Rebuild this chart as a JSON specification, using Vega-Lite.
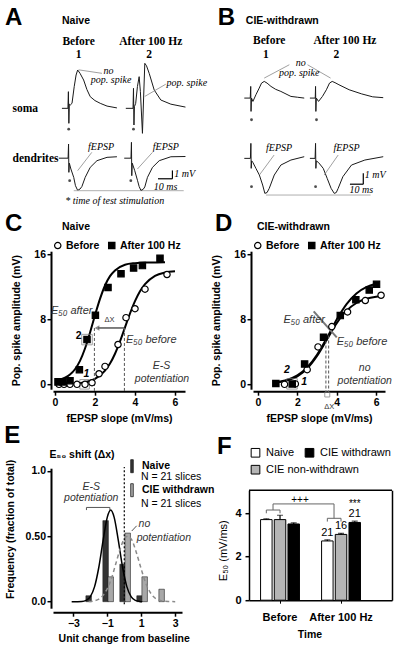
{
"$schema":"https://vega.github.io/schema/vega-lite/v6.json",
"background":"white",
"padding":{"left":3,"top":5,"right":0,"bottom":0},
"spacing":4.2,
"resolve":{"scale":{"fill":"independent","shape":"independent","stroke":"independent"},"legend":{"fill":"independent","shape":"independent","stroke":"independent"}},
"datasets":{
"one":[{}],
"Asb":[{"t":0,"v":0},{"t":3.8,"v":0},{"t":4.1,"v":2.0},{"t":4.4,"v":-1.8},{"t":4.7,"v":0.5},{"t":5.3,"v":0.4},{"t":6.4,"v":0.6},{"t":7.8,"v":2.6},{"t":9,"v":4.0},{"t":10,"v":4.6},{"t":11.5,"v":4.2},{"t":13.8,"v":3.4},{"t":15.9,"v":2.25},{"t":18,"v":1.4},{"t":21,"v":0.93},{"t":24.4,"v":0.6},{"t":28.7,"v":0.27},{"t":35,"v":0.05}],
"Asa":[{"t":0,"v":0},{"t":4.6,"v":0},{"t":4.9,"v":2.4},{"t":5.2,"v":-2.0},{"t":5.5,"v":0.2},{"t":6.3,"v":0.6},{"t":7.4,"v":2.6},{"t":8.5,"v":3.8},{"t":9.3,"v":2.0},{"t":10.6,"v":-3.0},{"t":11.3,"v":1.0},{"t":12.1,"v":5.4},{"t":13.2,"v":5.1},{"t":14.9,"v":4.2},{"t":18.1,"v":2.2},{"t":22.3,"v":1.0},{"t":28.7,"v":0.5},{"t":38,"v":0.15}],
"Adb":[{"t":-2,"v":0},{"t":3.9,"v":0},{"t":4.2,"v":1.7},{"t":4.4,"v":-1.7},{"t":4.7,"v":-0.6},{"t":5.7,"v":-1.3},{"t":7.5,"v":-2.3},{"t":8.6,"v":-3.3},{"t":10,"v":-3.86},{"t":11.5,"v":-3.7},{"t":12.7,"v":-3.4},{"t":14.8,"v":-2.3},{"t":18,"v":-1.1},{"t":22.3,"v":-0.3},{"t":28.7,"v":0.1},{"t":35,"v":0.17}],
"Ada":[{"t":-1,"v":0},{"t":3.3,"v":0},{"t":3.6,"v":1.9},{"t":3.8,"v":-2.1},{"t":4.1,"v":-0.6},{"t":5.7,"v":-1.5},{"t":7.5,"v":-2.7},{"t":8.5,"v":-3.4},{"t":9.6,"v":-3.86},{"t":11,"v":-3.75},{"t":12.1,"v":-3.45},{"t":13.8,"v":-2.3},{"t":17,"v":-1.1},{"t":21.3,"v":-0.3},{"t":28.7,"v":0.17},{"t":38,"v":0.2}],
"Bsb":[{"t":0,"v":0},{"t":3.8,"v":0},{"t":4.1,"v":1.4},{"t":4.3,"v":-1.6},{"t":4.6,"v":0},{"t":5.5,"v":-0.4},{"t":7.4,"v":0.4},{"t":9.5,"v":1.2},{"t":11,"v":1.8},{"t":12.7,"v":2.0},{"t":14.5,"v":1.8},{"t":17,"v":1.4},{"t":20,"v":1.05},{"t":23.3,"v":0.8},{"t":29.7,"v":0.2},{"t":34,"v":0.1},{"t":38.2,"v":0}],
"Bsa":[{"t":0,"v":0},{"t":3.4,"v":0},{"t":3.6,"v":1.4},{"t":3.8,"v":-1.6},{"t":4.1,"v":0},{"t":5.5,"v":-0.4},{"t":8,"v":0.2},{"t":10.5,"v":1.0},{"t":12.5,"v":1.8},{"t":14.2,"v":2.0},{"t":16,"v":1.85},{"t":18.5,"v":1.6},{"t":25,"v":1.0},{"t":33,"v":0.5},{"t":40,"v":0.15},{"t":46.7,"v":0.05}],
"Bdb":[{"t":0,"v":0},{"t":3.9,"v":0},{"t":4.2,"v":1.8},{"t":4.4,"v":-1.2},{"t":4.7,"v":-0.3},{"t":5.5,"v":-0.5},{"t":7.4,"v":-1.2},{"t":9.6,"v":-2.0},{"t":11.7,"v":-3.2},{"t":13.1,"v":-4.2},{"t":14.5,"v":-4.1},{"t":15.9,"v":-3.6},{"t":19.1,"v":-2.0},{"t":23.3,"v":-0.8},{"t":29.7,"v":-0.2},{"t":38.2,"v":0.2}],
"Bda":[{"t":0,"v":0},{"t":3.3,"v":0},{"t":3.6,"v":1.8},{"t":3.8,"v":-1.2},{"t":4.1,"v":-0.3},{"t":5.5,"v":-0.5},{"t":8.5,"v":-1.2},{"t":11,"v":-2.4},{"t":13.5,"v":-3.6},{"t":15.5,"v":-4.2},{"t":16.8,"v":-4.1},{"t":18,"v":-3.6},{"t":21,"v":-2.2},{"t":26.5,"v":-0.8},{"t":35,"v":-0.2},{"t":46.7,"v":0.2}],
"Cpts":[{"series":"Before","x":0.2,"y":0},{"series":"Before","x":0.45,"y":0},{"series":"Before","x":0.75,"y":0},{"series":"Before","x":1.1,"y":0},{"series":"Before","x":1.5,"y":0},{"series":"Before","x":1.85,"y":0.2},{"series":"Before","x":2.2,"y":1.3},{"series":"Before","x":2.5,"y":2.2},{"series":"Before","x":3.15,"y":4.9},{"series":"Before","x":3.55,"y":8.2},{"series":"Before","x":4.0,"y":9.3},{"series":"Before","x":4.5,"y":11.7},{"series":"Before","x":5.6,"y":13.5},
{"series":"After 100 Hz","x":0.15,"y":0.3},{"series":"After 100 Hz","x":0.4,"y":0.3},{"series":"After 100 Hz","x":0.75,"y":0.45},{"series":"After 100 Hz","x":1.22,"y":1.8},{"series":"After 100 Hz","x":1.6,"y":5.5},{"series":"After 100 Hz","x":2.02,"y":8.5},{"series":"After 100 Hz","x":2.65,"y":11.9},{"series":"After 100 Hz","x":3.3,"y":13.6},{"series":"After 100 Hz","x":3.93,"y":14.3},{"series":"After 100 Hz","x":4.37,"y":14.6},{"series":"After 100 Hz","x":5.25,"y":15.5}],
"Ccurve":[{"series":"After 100 Hz","x":0.2,"y":0.55},{"series":"After 100 Hz","x":0.5,"y":0.81},{"series":"After 100 Hz","x":0.75,"y":1.2},{"series":"After 100 Hz","x":1.0,"y":1.85},{"series":"After 100 Hz","x":1.25,"y":2.88},{"series":"After 100 Hz","x":1.5,"y":4.4},{"series":"After 100 Hz","x":1.75,"y":6.35},{"series":"After 100 Hz","x":2.0,"y":8.5},{"series":"After 100 Hz","x":2.25,"y":10.5},{"series":"After 100 Hz","x":2.5,"y":12.15},{"series":"After 100 Hz","x":2.75,"y":13.3},{"series":"After 100 Hz","x":3.0,"y":14.0},{"series":"After 100 Hz","x":3.5,"y":14.7},{"series":"After 100 Hz","x":4.0,"y":14.9},{"series":"After 100 Hz","x":4.5,"y":14.98},{"series":"After 100 Hz","x":5.5,"y":15.0},
{"series":"Before","x":1.0,"y":0.09},{"series":"Before","x":1.5,"y":0.25},{"series":"Before","x":2.0,"y":0.66},{"series":"Before","x":2.5,"y":1.67},{"series":"Before","x":2.75,"y":2.55},{"series":"Before","x":3.0,"y":3.76},{"series":"Before","x":3.25,"y":5.28},{"series":"Before","x":3.5,"y":7.0},{"series":"Before","x":3.75,"y":8.71},{"series":"Before","x":4.0,"y":10.23},{"series":"Before","x":4.25,"y":11.45},{"series":"Before","x":4.5,"y":12.32},{"series":"Before","x":5.0,"y":13.34},{"series":"Before","x":5.5,"y":13.75},{"series":"Before","x":6.0,"y":13.9}],
"Dpts":[{"series":"Before","x":1.35,"y":0},{"series":"Before","x":1.9,"y":0.05},{"series":"Before","x":2.5,"y":1.8},{"series":"Before","x":3.05,"y":4.6},{"series":"Before","x":3.75,"y":7.1},{"series":"Before","x":4.55,"y":8.9},{"series":"Before","x":5.45,"y":10.3},{"series":"Before","x":6.25,"y":10.95},
{"series":"After 100 Hz","x":0.91,"y":0.1},{"series":"After 100 Hz","x":1.74,"y":0.05},{"series":"After 100 Hz","x":2.37,"y":2.5},{"series":"After 100 Hz","x":3.33,"y":5.8},{"series":"After 100 Hz","x":4.18,"y":8.45},{"series":"After 100 Hz","x":4.97,"y":10.4},{"series":"After 100 Hz","x":5.65,"y":11.6},{"series":"After 100 Hz","x":6.02,"y":12.3}],
"Dcurve":[{"series":"Before","x":0.9,"y":0.2},{"series":"Before","x":1.5,"y":0.48},{"series":"Before","x":2.0,"y":0.99},{"series":"Before","x":2.5,"y":1.94},{"series":"Before","x":3.0,"y":3.48},{"series":"Before","x":3.5,"y":5.5},{"series":"Before","x":4.0,"y":7.52},{"series":"Before","x":4.5,"y":9.06},{"series":"Before","x":5.0,"y":10.0},{"series":"Before","x":5.5,"y":10.52},{"series":"Before","x":6.0,"y":10.77},{"series":"Before","x":6.2,"y":10.83},
{"series":"After 100 Hz","x":0.9,"y":0.25},{"series":"After 100 Hz","x":1.5,"y":0.57},{"series":"After 100 Hz","x":2.0,"y":1.1},{"series":"After 100 Hz","x":2.5,"y":2.07},{"series":"After 100 Hz","x":3.0,"y":3.63},{"series":"After 100 Hz","x":3.5,"y":5.7},{"series":"After 100 Hz","x":4.0,"y":7.97},{"series":"After 100 Hz","x":4.5,"y":9.87},{"series":"After 100 Hz","x":5.0,"y":11.18},{"series":"After 100 Hz","x":5.5,"y":11.95},{"series":"After 100 Hz","x":6.0,"y":12.37}],
"Ebars":[{"bin":-2,"group":"Naive","freq":0.045},{"bin":-1,"group":"Naive","freq":0.619},{"bin":0,"group":"Naive","freq":0.286},{"bin":1,"group":"Naive","freq":0.045},{"bin":-1,"group":"CIE withdrawn","freq":0.19},{"bin":0,"group":"CIE withdrawn","freq":0.524},{"bin":1,"group":"CIE withdrawn","freq":0.19},{"bin":2,"group":"CIE withdrawn","freq":0.095}],
"Ecurve":[{"group":"Naive","x":-3.1,"y":0},{"group":"Naive","x":-2.5,"y":0.002},{"group":"Naive","x":-2.25,"y":0.01},{"group":"Naive","x":-2.0,"y":0.039},{"group":"Naive","x":-1.75,"y":0.115},{"group":"Naive","x":-1.5,"y":0.263},{"group":"Naive","x":-1.25,"y":0.467},{"group":"Naive","x":-1.0,"y":0.646},{"group":"Naive","x":-0.8,"y":0.7},{"group":"Naive","x":-0.6,"y":0.646},{"group":"Naive","x":-0.35,"y":0.467},{"group":"Naive","x":-0.1,"y":0.263},{"group":"Naive","x":0.15,"y":0.115},{"group":"Naive","x":0.4,"y":0.039},{"group":"Naive","x":0.65,"y":0.01},{"group":"Naive","x":0.9,"y":0.002},{"group":"Naive","x":1.05,"y":0},
{"group":"CIE withdrawn","x":-2.1,"y":0.001},{"group":"CIE withdrawn","x":-1.75,"y":0.007},{"group":"CIE withdrawn","x":-1.5,"y":0.02},{"group":"CIE withdrawn","x":-1.25,"y":0.048},{"group":"CIE withdrawn","x":-1.0,"y":0.1},{"group":"CIE withdrawn","x":-0.75,"y":0.18},{"group":"CIE withdrawn","x":-0.5,"y":0.29},{"group":"CIE withdrawn","x":-0.25,"y":0.4},{"group":"CIE withdrawn","x":0.0,"y":0.48},{"group":"CIE withdrawn","x":0.2,"y":0.5},{"group":"CIE withdrawn","x":0.45,"y":0.47},{"group":"CIE withdrawn","x":0.7,"y":0.38},{"group":"CIE withdrawn","x":0.95,"y":0.27},{"group":"CIE withdrawn","x":1.2,"y":0.165},{"group":"CIE withdrawn","x":1.45,"y":0.088},{"group":"CIE withdrawn","x":1.7,"y":0.041},{"group":"CIE withdrawn","x":2.0,"y":0.014},{"group":"CIE withdrawn","x":2.3,"y":0.004},{"group":"CIE withdrawn","x":2.6,"y":0.001},{"group":"CIE withdrawn","x":3.0,"y":0}],
"Fbars":[{"time":"Before","group":"Naive","mean":3.7,"hi":3.74},{"time":"Before","group":"CIE non-withdrawn","mean":3.7,"hi":3.9},{"time":"Before","group":"CIE withdrawn","mean":3.5,"hi":3.55},{"time":"After 100 Hz","group":"Naive","mean":2.72,"hi":2.77,"n":"21"},{"time":"After 100 Hz","group":"CIE non-withdrawn","mean":3.02,"hi":3.07,"n":"16"},{"time":"After 100 Hz","group":"CIE withdrawn","mean":3.57,"hi":3.63,"n":"21","sig":"***"}],
"Fbr":[{"b":"L","o":1,"time":"Before","group":"Naive","y":3.99},{"b":"L","o":2,"time":"Before","group":"Naive","y":4.14},{"b":"L","o":3,"time":"Before","group":"CIE non-withdrawn","y":4.14},{"b":"L","o":4,"time":"Before","group":"CIE non-withdrawn","y":3.99},{"b":"R","o":1,"time":"After 100 Hz","group":"Naive","y":3.61},{"b":"R","o":2,"time":"After 100 Hz","group":"Naive","y":3.76},{"b":"R","o":3,"time":"After 100 Hz","group":"CIE non-withdrawn","y":3.76},{"b":"R","o":4,"time":"After 100 Hz","group":"CIE non-withdrawn","y":3.61}]
},
"vconcat":[
{"hconcat":[
 {"spacing":3.5,
  "vconcat":[
   {"hconcat":[
    {"width":65.5,"height":75,"layer":[
     {"data":{"name":"Asb"},"mark":{"type":"line","color":"#1a1a1a","strokeWidth":1},
      "encoding":{"x":{"field":"t","type":"quantitative","scale":{"domain":[-5.7,36],"nice":false,"zero":false},"axis":null},
       "y":{"field":"v","type":"quantitative","scale":{"domain":[-3.2,5.8],"nice":false,"zero":false},"axis":{"domain":false,"ticks":false,"labels":false,"title":"soma","titleAngle":0,"titleAlign":"left","titleBaseline":"middle","titleX":-41,"titleY":48.3,"titleFont":"Liberation Serif","titleFontSize":11.5}}}},
     {"data":{"name":"one"},"mark":{"type":"text","text":"A","fontSize":24,"fontWeight":"bold","align":"left","baseline":"alphabetic"},"encoding":{"x":{"datum":-36.3},"y":{"datum":9.95}}},
     {"data":{"name":"one"},"mark":{"type":"point","filled":true,"color":"black","size":8},"encoding":{"x":{"datum":4.3},"y":{"datum":-2.5}}},
     {"data":{"name":"one"},"mark":{"type":"text","text":"Naive","fontWeight":"bold","fontSize":10.5,"align":"left"},"encoding":{"x":{"datum":0},"y":{"datum":10.5}}},
     {"data":{"name":"one"},"mark":{"type":"text","text":"Before","font":"Liberation Serif","fontWeight":"bold","fontSize":11.5},"encoding":{"x":{"datum":10.6},"y":{"datum":8.0}}},
     {"data":{"name":"one"},"mark":{"type":"text","text":"1","font":"Liberation Serif","fontWeight":"bold","fontSize":11.5},"encoding":{"x":{"datum":10.6},"y":{"datum":6.35}}},
     {"data":{"name":"one"},"mark":{"type":"rule","color":"#888","strokeWidth":0.8},"encoding":{"x":{"datum":10.6},"x2":{"datum":25.5},"y":{"datum":4.62},"y2":{"datum":4.2}}},
     {"data":{"name":"one"},"mark":{"type":"text","text":"no","font":"Liberation Serif","fontStyle":"italic","fontSize":10},"encoding":{"x":{"datum":29.7},"y":{"datum":4.43}}},
     {"data":{"name":"one"},"mark":{"type":"text","text":"pop. spike","font":"Liberation Serif","fontStyle":"italic","fontSize":10},"encoding":{"x":{"datum":31.3},"y":{"datum":3.35}}}
    ]},
    {"width":62.8,"height":75,"layer":[
     {"data":{"name":"Asa"},"mark":{"type":"line","color":"#1a1a1a","strokeWidth":1},
      "encoding":{"x":{"field":"t","type":"quantitative","scale":{"domain":[0,40],"nice":false,"zero":false},"axis":null},
       "y":{"field":"v","type":"quantitative","scale":{"domain":[-3.2,5.8],"nice":false,"zero":false},"axis":null}}},
     {"data":{"name":"one"},"mark":{"type":"point","filled":true,"color":"black","size":8},"encoding":{"x":{"datum":4.9},"y":{"datum":-2.5}}},
     {"data":{"name":"one"},"mark":{"type":"text","text":"After 100 Hz","font":"Liberation Serif","fontWeight":"bold","fontSize":11.5},"encoding":{"x":{"datum":15.9},"y":{"datum":8.0}}},
     {"data":{"name":"one"},"mark":{"type":"text","text":"2","font":"Liberation Serif","fontWeight":"bold","fontSize":11.5},"encoding":{"x":{"datum":14.9},"y":{"datum":6.35}}},
     {"data":{"name":"one"},"mark":{"type":"rule","color":"#888","strokeWidth":0.8},"encoding":{"x":{"datum":12.1},"x2":{"datum":25.5},"y":{"datum":1.43},"y2":{"datum":2.9}}},
     {"data":{"name":"one"},"mark":{"type":"text","text":"pop. spike","font":"Liberation Serif","fontStyle":"italic","fontSize":10,"align":"left"},"encoding":{"x":{"datum":26},"y":{"datum":3.0}}}
    ]}
   ],"spacing":6.8,"bounds":"flush"},
   {"hconcat":[
    {"width":65.5,"height":54.2,"layer":[
     {"data":{"name":"Adb"},"mark":{"type":"line","color":"#1a1a1a","strokeWidth":1},
      "encoding":{"x":{"field":"t","type":"quantitative","scale":{"domain":[-5.7,36],"nice":false,"zero":false},"axis":null},
       "y":{"field":"v","type":"quantitative","scale":{"domain":[-4.5,2.0],"nice":false,"zero":false},"axis":{"domain":false,"ticks":false,"labels":false,"title":"dendrites","titleAngle":0,"titleAlign":"left","titleBaseline":"middle","titleX":-41,"titleY":16.7,"titleFont":"Liberation Serif","titleFontSize":11.5}}}},
     {"data":{"name":"one"},"mark":{"type":"rule","color":"#999","strokeWidth":0.8},"encoding":{"x":{"datum":7.5},"x2":{"datum":77.5},"y":{"datum":-3.9}}},
     {"data":{"name":"one"},"mark":{"type":"point","filled":true,"color":"black","size":8},"encoding":{"x":{"datum":4.9},"y":{"datum":-2.7}}},
     {"data":{"name":"one"},"mark":{"type":"rule","color":"#888","strokeWidth":0.8},"encoding":{"x":{"datum":10},"x2":{"datum":19},"y":{"datum":-1.5},"y2":{"datum":0.7}}},
     {"data":{"name":"one"},"mark":{"type":"text","text":"fEPSP","font":"Liberation Serif","fontStyle":"italic","fontSize":10},"encoding":{"x":{"datum":24.9},"y":{"datum":1.3}}},
     {"data":{"name":"one"},"mark":{"type":"text","text":"* time of test stimulation","font":"Liberation Serif","fontStyle":"italic","fontSize":10,"align":"left"},"encoding":{"x":{"datum":2.1},"y":{"datum":-5.1}}}
    ]},
    {"width":62.8,"height":54.2,"layer":[
     {"data":{"name":"Ada"},"mark":{"type":"line","color":"#1a1a1a","strokeWidth":1},
      "encoding":{"x":{"field":"t","type":"quantitative","scale":{"domain":[0,40],"nice":false,"zero":false},"axis":null},
       "y":{"field":"v","type":"quantitative","scale":{"domain":[-4.5,2.0],"nice":false,"zero":false},"axis":null}}},
     {"data":{"name":"one"},"mark":{"type":"point","filled":true,"color":"black","size":8},"encoding":{"x":{"datum":3.2},"y":{"datum":-2.7}}},
     {"data":{"name":"one"},"mark":{"type":"rule","color":"#888","strokeWidth":0.8},"encoding":{"x":{"datum":7.4},"x2":{"datum":17},"y":{"datum":-1.3},"y2":{"datum":0.7}}},
     {"data":{"name":"one"},"mark":{"type":"text","text":"fEPSP","font":"Liberation Serif","fontStyle":"italic","fontSize":10},"encoding":{"x":{"datum":25.5},"y":{"datum":1.3}}},
     {"data":{"name":"one"},"mark":{"type":"rule","color":"black","strokeWidth":1.2},"encoding":{"x":{"datum":20.5},"x2":{"datum":29.7},"y":{"datum":-2.47}}},
     {"data":{"name":"one"},"mark":{"type":"rule","color":"black","strokeWidth":1.2},"encoding":{"x":{"datum":29.7},"y":{"datum":-2.47},"y2":{"datum":-1.47}}},
     {"data":{"name":"one"},"mark":{"type":"text","text":"1 mV","font":"Liberation Serif","fontStyle":"italic","fontSize":10,"align":"left"},"encoding":{"x":{"datum":30.8},"y":{"datum":-1.9}}},
     {"data":{"name":"one"},"mark":{"type":"text","text":"10 ms","font":"Liberation Serif","fontStyle":"italic","fontSize":10},"encoding":{"x":{"datum":25.3},"y":{"datum":-3.4}}}
    ]}
   ],"spacing":6.8,"bounds":"flush"}
  ]},
 {"spacing":8.7,
  "vconcat":[
   {"hconcat":[
    {"width":60.4,"height":71,"layer":[
     {"data":{"name":"Bsb"},"mark":{"type":"line","color":"#1a1a1a","strokeWidth":1},
      "encoding":{"x":{"field":"t","type":"quantitative","scale":{"domain":[0,38.5],"nice":false,"zero":false},"axis":null},
       "y":{"field":"v","type":"quantitative","scale":{"domain":[-3.95,4.57],"nice":false,"zero":false},"axis":null}}},
     {"data":{"name":"one"},"mark":{"type":"text","text":"B","fontSize":24,"fontWeight":"bold","align":"left","baseline":"alphabetic"},"encoding":{"x":{"datum":-17.0},"y":{"datum":8.73}}},
     {"data":{"name":"one"},"mark":{"type":"point","filled":true,"color":"black","size":8},"encoding":{"x":{"datum":4.6},"y":{"datum":-2.6}}},
     {"data":{"name":"one"},"mark":{"type":"text","text":"CIE-withdrawn","fontWeight":"bold","fontSize":10.5,"align":"left"},"encoding":{"x":{"datum":1.0},"y":{"datum":9.25}}},
     {"data":{"name":"one"},"mark":{"type":"text","text":"Before","font":"Liberation Serif","fontWeight":"bold","fontSize":11.5},"encoding":{"x":{"datum":15.9},"y":{"datum":6.8}}},
     {"data":{"name":"one"},"mark":{"type":"text","text":"1","font":"Liberation Serif","fontWeight":"bold","fontSize":11.5},"encoding":{"x":{"datum":13.8},"y":{"datum":5.2}}},
     {"data":{"name":"one"},"mark":{"type":"rule","color":"#888","strokeWidth":0.8},"encoding":{"x":{"datum":12.7},"x2":{"datum":28.7},"y":{"datum":2.4},"y2":{"datum":4.0}}},
     {"data":{"name":"one"},"mark":{"type":"rule","color":"#888","strokeWidth":0.8},"encoding":{"x":{"datum":40.3},"x2":{"datum":55},"y":{"datum":4.0},"y2":{"datum":2.4}}},
     {"data":{"name":"one"},"mark":{"type":"text","text":"no","font":"Liberation Serif","fontStyle":"italic","fontSize":10},"encoding":{"x":{"datum":36},"y":{"datum":4.2}}},
     {"data":{"name":"one"},"mark":{"type":"text","text":"pop. spike","font":"Liberation Serif","fontStyle":"italic","fontSize":10},"encoding":{"x":{"datum":35},"y":{"datum":3.0}}}
    ]},
    {"width":73.8,"height":71,"layer":[
     {"data":{"name":"Bsa"},"mark":{"type":"line","color":"#1a1a1a","strokeWidth":1},
      "encoding":{"x":{"field":"t","type":"quantitative","scale":{"domain":[0,47],"nice":false,"zero":false},"axis":null},
       "y":{"field":"v","type":"quantitative","scale":{"domain":[-3.95,4.57],"nice":false,"zero":false},"axis":null}}},
     {"data":{"name":"one"},"mark":{"type":"point","filled":true,"color":"black","size":8},"encoding":{"x":{"datum":4.2},"y":{"datum":-2.6}}},
     {"data":{"name":"one"},"mark":{"type":"text","text":"After 100 Hz","font":"Liberation Serif","fontWeight":"bold","fontSize":11.5},"encoding":{"x":{"datum":22.3},"y":{"datum":6.8}}},
     {"data":{"name":"one"},"mark":{"type":"text","text":"2","font":"Liberation Serif","fontWeight":"bold","fontSize":11.5},"encoding":{"x":{"datum":16.9},"y":{"datum":5.2}}}
    ]}
   ],"spacing":4.6,"bounds":"flush"},
   {"hconcat":[
    {"width":60.4,"height":55,"layer":[
     {"data":{"name":"Bdb"},"mark":{"type":"line","color":"#1a1a1a","strokeWidth":1},
      "encoding":{"x":{"field":"t","type":"quantitative","scale":{"domain":[0,38.5],"nice":false,"zero":false},"axis":null},
       "y":{"field":"v","type":"quantitative","scale":{"domain":[-4.6,2.0],"nice":false,"zero":false},"axis":null}}},
     {"data":{"name":"one"},"mark":{"type":"rule","color":"#999","strokeWidth":0.8},"encoding":{"x":{"datum":13.8},"x2":{"datum":80.5},"y":{"datum":-4.4}}},
     {"data":{"name":"one"},"mark":{"type":"point","filled":true,"color":"black","size":8},"encoding":{"x":{"datum":4.6},"y":{"datum":-3.4}}},
     {"data":{"name":"one"},"mark":{"type":"rule","color":"#888","strokeWidth":0.8},"encoding":{"x":{"datum":9.6},"x2":{"datum":19},"y":{"datum":-2.0},"y2":{"datum":0.4}}},
     {"data":{"name":"one"},"mark":{"type":"text","text":"fEPSP","font":"Liberation Serif","fontStyle":"italic","fontSize":10},"encoding":{"x":{"datum":22.2},"y":{"datum":1.2}}}
    ]},
    {"width":73.8,"height":55,"layer":[
     {"data":{"name":"Bda"},"mark":{"type":"line","color":"#1a1a1a","strokeWidth":1},
      "encoding":{"x":{"field":"t","type":"quantitative","scale":{"domain":[0,47],"nice":false,"zero":false},"axis":null},
       "y":{"field":"v","type":"quantitative","scale":{"domain":[-4.6,2.0],"nice":false,"zero":false},"axis":null}}},
     {"data":{"name":"one"},"mark":{"type":"point","filled":true,"color":"black","size":8},"encoding":{"x":{"datum":3.6},"y":{"datum":-3.4}}},
     {"data":{"name":"one"},"mark":{"type":"rule","color":"#888","strokeWidth":0.8},"encoding":{"x":{"datum":9.1},"x2":{"datum":18},"y":{"datum":-2.0},"y2":{"datum":0.4}}},
     {"data":{"name":"one"},"mark":{"type":"text","text":"fEPSP","font":"Liberation Serif","fontStyle":"italic","fontSize":10},"encoding":{"x":{"datum":23.3},"y":{"datum":1.2}}},
     {"data":{"name":"one"},"mark":{"type":"rule","color":"black","strokeWidth":1.2},"encoding":{"x":{"datum":25.5},"x2":{"datum":34},"y":{"datum":-3.1}}},
     {"data":{"name":"one"},"mark":{"type":"rule","color":"black","strokeWidth":1.2},"encoding":{"x":{"datum":34},"y":{"datum":-3.1},"y2":{"datum":-1.8}}},
     {"data":{"name":"one"},"mark":{"type":"text","text":"1 mV","font":"Liberation Serif","fontStyle":"italic","fontSize":10,"align":"left"},"encoding":{"x":{"datum":35},"y":{"datum":-2.0}}},
     {"data":{"name":"one"},"mark":{"type":"text","text":"10 ms","font":"Liberation Serif","fontStyle":"italic","fontSize":10},"encoding":{"x":{"datum":32.7},"y":{"datum":-3.8}}}
    ]}
   ],"spacing":4.6,"bounds":"flush"}
  ]}
],"spacing":8.3},
{"vconcat":[
 {"hconcat":[
  {"width":132,"height":138,
   "layer":[
    {"data":{"name":"Ccurve"},"mark":{"type":"line","color":"black","strokeWidth":2,"interpolate":"monotone"},
     "encoding":{"x":{"field":"x","type":"quantitative","scale":{"domain":[-0.1,6.5],"nice":false,"zero":false},"axis":{"values":[0,1,2,3,4,5,6],"labelOverlap":false,"title":"fEPSP slope (mV/ms)","offset":2,"labelPadding":2.5,"titlePadding":5}},
      "y":{"field":"y","type":"quantitative","scale":{"domain":[-0.6,16.37],"nice":false,"zero":false},"axis":{"values":[0,4,8,12,16],"labelOverlap":false,"title":"Pop. spike amplitude (mV)","offset":2,"labelPadding":1.5,"titlePadding":12}},
      "detail":{"field":"series"}}},
    {"data":{"name":"one"},"mark":{"type":"text","text":"C","fontSize":24,"fontWeight":"bold","align":"left","baseline":"alphabetic"},"encoding":{"x":{"datum":-2.5},"y":{"datum":18.83}}},
    {"data":{"name":"one"},"mark":{"type":"rule","color":"#555","strokeWidth":1,"strokeDash":[3,2]},"encoding":{"x":{"datum":1.97},"y":{"datum":6.93},"y2":{"datum":-0.86}}},
    {"data":{"name":"one"},"mark":{"type":"rule","color":"#555","strokeWidth":1,"strokeDash":[3,2]},"encoding":{"x":{"datum":3.47},"y":{"datum":6.93},"y2":{"datum":-0.86}}},
    {"data":{"name":"one"},"mark":{"type":"rule","color":"#555","strokeWidth":1.5},"encoding":{"x":{"datum":3.47},"x2":{"datum":2.15},"y":{"datum":6.93}}},
    {"data":{"name":"one"},"mark":{"type":"point","shape":"triangle-left","filled":true,"color":"#555","size":30},"encoding":{"x":{"datum":2.1},"y":{"datum":6.93}}},
    {"data":{"name":"one"},"mark":{"type":"point","shape":"square","filled":false,"color":"#777","size":110,"strokeWidth":1},"encoding":{"x":{"datum":1.6},"y":{"datum":5.5}}},
    {"data":{"name":"one"},"mark":{"type":"point","shape":"square","filled":false,"color":"#777","size":90,"strokeWidth":1},"encoding":{"x":{"datum":1.48},"y":{"datum":0}}},
    {"data":{"name":"Cpts"},"mark":{"type":"point","filled":true,"strokeWidth":1.2,"size":40,"opacity":1},
     "encoding":{"x":{"field":"x","type":"quantitative"},"y":{"field":"y","type":"quantitative"},
      "shape":{"field":"series","type":"nominal","scale":{"domain":["Before","After 100 Hz"],"range":["circle","square"]},"legend":{"orient":"none","legendX":-0.5,"legendY":-11,"title":null,"direction":"horizontal","symbolSize":40,"symbolStrokeWidth":1.2,"labelFontWeight":"bold","labelFontSize":10.5,"labelOffset":3,"columnPadding":6,"padding":0}},
      "fill":{"field":"series","type":"nominal","scale":{"domain":["Before","After 100 Hz"],"range":["white","black"]},"legend":{"orient":"none","legendX":-0.5,"legendY":-11,"title":null,"direction":"horizontal","symbolSize":40,"symbolStrokeWidth":1.2,"labelFontWeight":"bold","labelFontSize":10.5,"labelOffset":3,"columnPadding":6,"padding":0}},
      "stroke":{"field":"series","type":"nominal","scale":{"domain":["Before","After 100 Hz"],"range":["black","black"]},"legend":{"orient":"none","legendX":-0.5,"legendY":-11,"title":null,"direction":"horizontal","symbolSize":40,"symbolStrokeWidth":1.2,"labelFontWeight":"bold","labelFontSize":10.5,"labelOffset":3,"columnPadding":6,"padding":0}}}},
    {"data":{"name":"one"},"mark":{"type":"text","text":"Naive","fontWeight":"bold","fontSize":10.5,"align":"left"},"encoding":{"x":{"datum":0.35},"y":{"datum":19.3}}},
    {"data":{"name":"one"},"mark":{"type":"text","text":"2","fontWeight":"bold","fontSize":10.5},"encoding":{"x":{"datum":1.18},"y":{"datum":5.9}}},
    {"data":{"name":"one"},"mark":{"type":"text","text":"1","fontWeight":"bold","fontStyle":"italic","fontSize":10.5},"encoding":{"x":{"datum":1.57},"y":{"datum":1.3}}},
    {"data":{"name":"one"},"mark":{"type":"text","text":"E₅₀ after","fontStyle":"italic","fontSize":11,"color":"#333","align":"left"},"encoding":{"x":{"datum":-0.2},"y":{"datum":9.0}}},
    {"data":{"name":"one"},"mark":{"type":"text","text":"E₅₀ before","fontStyle":"italic","fontSize":11,"color":"#333","align":"left"},"encoding":{"x":{"datum":3.55},"y":{"datum":5.5}}},
    {"data":{"name":"one"},"mark":{"type":"text","text":"ΔX","fontSize":7.5,"color":"#333"},"encoding":{"x":{"datum":2.72},"y":{"datum":7.9}}},
    {"data":{"name":"one"},"mark":{"type":"text","text":"E-S","fontStyle":"italic","fontSize":10.5,"color":"#333"},"encoding":{"x":{"datum":5.33},"y":{"datum":2.2}}},
    {"data":{"name":"one"},"mark":{"type":"text","text":"potentiation","fontStyle":"italic","fontSize":10.5,"color":"#333"},"encoding":{"x":{"datum":5.35},"y":{"datum":0.6}}}
   ]},
  {"width":132,"height":138,
   "layer":[
    {"data":{"name":"Dcurve"},"mark":{"type":"line","color":"black","strokeWidth":2,"interpolate":"monotone"},
     "encoding":{"x":{"field":"x","type":"quantitative","scale":{"domain":[-0.25,6.45],"nice":false,"zero":false},"axis":{"values":[0,1,2,3,4,5,6],"labelOverlap":false,"title":"fEPSP slope (mV/ms)","offset":2,"labelPadding":2.5,"titlePadding":5}},
      "y":{"field":"y","type":"quantitative","scale":{"domain":[-0.6,16.37],"nice":false,"zero":false},"axis":{"values":[0,4,8,12,16],"labelOverlap":false,"title":"Pop. spike amplitude (mV)","offset":2,"labelPadding":1.5,"titlePadding":12}},
      "detail":{"field":"series"}}},
    {"data":{"name":"one"},"mark":{"type":"text","text":"D","fontSize":24,"fontWeight":"bold","align":"left","baseline":"alphabetic"},"encoding":{"x":{"datum":-2.18},"y":{"datum":18.83}}},
    {"data":{"name":"one"},"mark":{"type":"rule","color":"#555","strokeWidth":1,"strokeDash":[3,2]},"encoding":{"x":{"datum":3.45},"y":{"datum":6.0},"y2":{"datum":-1.07}}},
    {"data":{"name":"one"},"mark":{"type":"rule","color":"#555","strokeWidth":1,"strokeDash":[3,2]},"encoding":{"x":{"datum":3.59},"y":{"datum":6.0},"y2":{"datum":-1.07}}},
    {"data":{"name":"one"},"mark":{"type":"rule","color":"#777","strokeWidth":2},"encoding":{"x":{"datum":2.83},"x2":{"datum":4.0},"y":{"datum":8.98},"y2":{"datum":5.78}}},
    {"data":{"name":"one"},"mark":{"type":"point","shape":"square","filled":false,"color":"#777","size":110,"strokeWidth":1},"encoding":{"x":{"datum":1.73},"y":{"datum":0.06}}},
    {"data":{"name":"one"},"mark":{"type":"point","shape":"square","filled":false,"color":"#777","size":25,"strokeWidth":1},"encoding":{"x":{"datum":3.52},"y":{"datum":-1.25}}},
    {"data":{"name":"Dpts"},"mark":{"type":"point","filled":true,"strokeWidth":1.2,"size":40,"opacity":1},
     "encoding":{"x":{"field":"x","type":"quantitative"},"y":{"field":"y","type":"quantitative"},
      "shape":{"field":"series","type":"nominal","scale":{"domain":["Before","After 100 Hz"],"range":["circle","square"]},"legend":{"orient":"none","legendX":-0.5,"legendY":-11,"title":null,"direction":"horizontal","symbolSize":40,"symbolStrokeWidth":1.2,"labelFontWeight":"bold","labelFontSize":10.5,"labelOffset":3,"columnPadding":6,"padding":0}},
      "fill":{"field":"series","type":"nominal","scale":{"domain":["Before","After 100 Hz"],"range":["white","black"]},"legend":{"orient":"none","legendX":-0.5,"legendY":-11,"title":null,"direction":"horizontal","symbolSize":40,"symbolStrokeWidth":1.2,"labelFontWeight":"bold","labelFontSize":10.5,"labelOffset":3,"columnPadding":6,"padding":0}},
      "stroke":{"field":"series","type":"nominal","scale":{"domain":["Before","After 100 Hz"],"range":["black","black"]},"legend":{"orient":"none","legendX":-0.5,"legendY":-11,"title":null,"direction":"horizontal","symbolSize":40,"symbolStrokeWidth":1.2,"labelFontWeight":"bold","labelFontSize":10.5,"labelOffset":3,"columnPadding":6,"padding":0}}}},
    {"data":{"name":"one"},"mark":{"type":"text","text":"CIE-withdrawn","fontWeight":"bold","fontSize":10.5,"align":"left"},"encoding":{"x":{"datum":-0.05},"y":{"datum":19.3}}},
    {"data":{"name":"one"},"mark":{"type":"text","text":"2","fontWeight":"bold","fontStyle":"italic","fontSize":10.5},"encoding":{"x":{"datum":1.47},"y":{"datum":1.7}}},
    {"data":{"name":"one"},"mark":{"type":"text","text":"1","fontWeight":"bold","fontStyle":"italic","fontSize":10.5,"align":"left"},"encoding":{"x":{"datum":2.2},"y":{"datum":0.3}}},
    {"data":{"name":"one"},"mark":{"type":"text","text":"E₅₀ after","fontStyle":"italic","fontSize":11,"color":"#333","align":"left"},"encoding":{"x":{"datum":1.3},"y":{"datum":7.96}}},
    {"data":{"name":"one"},"mark":{"type":"text","text":"E₅₀ before","fontStyle":"italic","fontSize":11,"color":"#333","align":"left"},"encoding":{"x":{"datum":4.0},"y":{"datum":5.2}}},
    {"data":{"name":"one"},"mark":{"type":"text","text":"ΔX","fontSize":7.5,"color":"#333"},"encoding":{"x":{"datum":3.62},"y":{"datum":-2.75}}},
    {"data":{"name":"one"},"mark":{"type":"text","text":"no","fontStyle":"italic","fontSize":10.5,"color":"#333"},"encoding":{"x":{"datum":5.42},"y":{"datum":2.0}}},
    {"data":{"name":"one"},"mark":{"type":"text","text":"potentiation","fontStyle":"italic","fontSize":10.5,"color":"#333"},"encoding":{"x":{"datum":5.42},"y":{"datum":0.45}}}
   ]}
 ],"spacing":68,"bounds":"flush","resolve":{"scale":{"fill":"independent","shape":"independent","stroke":"independent"},"legend":{"fill":"independent","shape":"independent","stroke":"independent"}}},
 {"hconcat":[
  {"width":129,"height":140,
   "layer":[
    {"data":{"name":"Ebars"},"transform":[{"filter":"datum.group == 'Naive'"}],
     "mark":{"type":"bar","width":5.5,"xOffset":-1.7,"stroke":"#222","strokeWidth":0.6},
     "encoding":{"x":{"field":"bin","type":"quantitative","scale":{"domain":[-4.2,3.4],"nice":false,"zero":false,"padding":0},"axis":{"values":[-3,-2,-1,0,1,2,3],"labelOverlap":false,"offset":4,"title":"Unit change from baseline","titleX":70.7,"labelPadding":2,"titlePadding":5}},
      "y":{"field":"freq","type":"quantitative","stack":null,"scale":{"domain":[-0.05,1.02],"nice":false,"zero":false,"padding":0},"axis":{"values":[0,0.25,0.5,0.75,1],"labelOverlap":false,"labelExpr":"datum.value == 0 ? '0.0' : datum.value == 1 ? '1.0' : format(datum.value, '.2f')","offset":2,"title":"Frequency (fraction of total)","titleY":60.7,"labelPadding":1.5,"titlePadding":10}},
      "fill":{"field":"group","type":"nominal","scale":{"domain":["Naive","CIE withdrawn"],"range":["#333333","#a8a8a8"]},"legend":{"orient":"none","legendX":72,"legendY":-9,"title":null,"direction":"vertical","symbolType":"M-0.2,-1H0.2V1H-0.2Z","symbolSize":169,"symbolStrokeColor":"#222","symbolStrokeWidth":0.8,"labelFontWeight":"bold","labelFontSize":10.5,"labelOffset":3,"rowPadding":6,"padding":0}}}},
    {"data":{"name":"Ebars"},"transform":[{"filter":"datum.group == 'CIE withdrawn'"}],
     "mark":{"type":"bar","width":5.5,"xOffset":3.4,"stroke":"#222","strokeWidth":0.6},
     "encoding":{"x":{"field":"bin","type":"quantitative","scale":{"domain":[-4.2,3.4],"nice":false,"zero":false,"padding":0}},"y":{"field":"freq","type":"quantitative","stack":null,"scale":{"domain":[-0.05,1.02],"nice":false,"zero":false,"padding":0}},"fill":{"field":"group","type":"nominal"}}},
    {"data":{"name":"Ecurve"},"transform":[{"filter":"datum.group == 'Naive'"}],"mark":{"type":"line","color":"black","strokeWidth":1.5,"interpolate":"monotone"},"encoding":{"x":{"field":"x","type":"quantitative","scale":{"domain":[-4.2,3.4],"nice":false,"zero":false,"padding":0}},"y":{"field":"y","type":"quantitative","scale":{"domain":[-0.05,1.02],"nice":false,"zero":false,"padding":0}}}},
    {"data":{"name":"Ecurve"},"transform":[{"filter":"datum.group == 'CIE withdrawn'"}],"mark":{"type":"line","color":"#8a8a8a","strokeWidth":1.5,"strokeDash":[4,3],"interpolate":"monotone"},"encoding":{"x":{"field":"x","type":"quantitative","scale":{"domain":[-4.2,3.4],"nice":false,"zero":false,"padding":0}},"y":{"field":"y","type":"quantitative","scale":{"domain":[-0.05,1.02],"nice":false,"zero":false,"padding":0}}}},
    {"data":{"name":"one"},"mark":{"type":"text","text":"E","fontSize":24,"fontWeight":"bold","align":"left","baseline":"alphabetic"},"encoding":{"x":{"datum":-7.07,"scale":{"domain":[-4.2,3.4],"nice":false,"zero":false,"padding":0}},"y":{"datum":1.212,"scale":{"domain":[-0.05,1.02],"nice":false,"zero":false,"padding":0}}}},
    {"data":{"name":"one"},"mark":{"type":"rule","color":"black","strokeWidth":1.2,"strokeDash":[2,2]},"encoding":{"x":{"datum":0},"y":{"datum":-0.02},"y2":{"datum":1.03}}},
    {"data":{"name":"one"},"mark":{"type":"rule","color":"#555","strokeWidth":1},"encoding":{"x":{"datum":-2.23},"x2":{"datum":-0.85},"y":{"datum":0.72}}},
    {"data":{"name":"one"},"mark":{"type":"rule","color":"#555","strokeWidth":1},"encoding":{"x":{"datum":-2.23},"y":{"datum":0.72},"y2":{"datum":0.7}}},
    {"data":{"name":"one"},"mark":{"type":"rule","color":"#555","strokeWidth":1},"encoding":{"x":{"datum":-0.85},"y":{"datum":0.72},"y2":{"datum":0.7}}},
    {"data":{"name":"one"},"mark":{"type":"rule","color":"#555","strokeWidth":1},"encoding":{"x":{"datum":0.73},"x2":{"datum":0.44},"y":{"datum":0.58},"y2":{"datum":0.54}}},
    {"data":{"name":"one"},"mark":{"type":"text","text":"E-S","fontStyle":"italic","fontSize":10.5,"color":"#333"},"encoding":{"x":{"datum":-1.95},"y":{"datum":0.88}}},
    {"data":{"name":"one"},"mark":{"type":"text","text":"potentiation","fontStyle":"italic","fontSize":10.5,"color":"#333"},"encoding":{"x":{"datum":-1.95},"y":{"datum":0.79}}},
    {"data":{"name":"one"},"mark":{"type":"text","text":"no","fontStyle":"italic","fontSize":10.5,"color":"#333","align":"left"},"encoding":{"x":{"datum":0.84},"y":{"datum":0.595}}},
    {"data":{"name":"one"},"mark":{"type":"text","text":"potentiation","fontStyle":"italic","fontSize":10.5,"color":"#333","align":"left"},"encoding":{"x":{"datum":0.73},"y":{"datum":0.49}}},
    {"data":{"name":"one"},"mark":{"type":"text","text":"E₅₀ shift  (Δx)","fontWeight":"bold","fontSize":10.5,"align":"left"},"encoding":{"x":{"datum":-4.4},"y":{"datum":1.118}}},
    {"data":{"name":"one"},"mark":{"type":"text","text":"N = 21 slices","fontSize":10.5,"align":"left"},"encoding":{"x":{"datum":0.98},"y":{"datum":0.952}}},
    {"data":{"name":"one"},"mark":{"type":"text","text":"N = 21 slices","fontSize":10.5,"align":"left"},"encoding":{"x":{"datum":0.98},"y":{"datum":0.748}}}
   ]},
  {"width":143,"height":132,
   "resolve":{"axis":{"y":"independent"}},
   "layer":[
    {"data":{"name":"Fbars"},"mark":{"type":"bar","strokeWidth":1},
     "encoding":{"x":{"field":"time","type":"nominal","scale":{"domain":["Before","After 100 Hz"],"paddingInner":0.31,"paddingOuter":0.327,"align":0.25},"axis":{"title":"Time","labelAngle":0,"domainWidth":1.5,"tickSize":3,"tickWidth":1,"labelPadding":8,"titlePadding":7,"titleX":60.5,"labelFontSize":11}},
      "xOffset":{"field":"group","type":"nominal","scale":{"domain":["Naive","CIE non-withdrawn","CIE withdrawn"],"paddingInner":0.16,"paddingOuter":0.117}},
      "y":{"field":"mean","type":"quantitative","stack":null,"scale":{"domain":[0,5.05],"range":[132,22],"nice":false},"axis":{"values":[0,2,4],"title":"E₅₀ (mV/ms)","titleFontWeight":"normal","titleFontSize":11,"titleY":82,"domainWidth":1.5,"labelPadding":4,"titlePadding":6,"labelFontSize":11}},
      "fill":{"field":"group","type":"nominal","scale":{"domain":["Naive","CIE withdrawn","CIE non-withdrawn"],"range":["white","black","#b5b5b5"]},"legend":{"orient":"none","legendX":1,"legendY":-21,"title":null,"direction":"horizontal","values":["Naive","CIE withdrawn"],"symbolType":"square","symbolSize":75,"symbolStrokeColor":"black","symbolStrokeWidth":1,"labelFontSize":11,"labelOffset":5,"columnPadding":8,"padding":0}},
      "stroke":{"field":"group","type":"nominal","scale":{"domain":["CIE non-withdrawn","CIE withdrawn","Naive"],"range":["black","black","black"]},"legend":{"orient":"none","legendX":1,"legendY":-4,"title":null,"direction":"horizontal","values":["CIE non-withdrawn"],"symbolType":"square","symbolSize":75,"symbolFillColor":"#b5b5b5","symbolStrokeColor":"black","symbolStrokeWidth":1,"labelFontSize":11,"labelOffset":5,"padding":0}}}},
    {"data":{"name":"one"},"mark":{"type":"text","text":"F","fontSize":24,"fontWeight":"bold","align":"left","baseline":"alphabetic","dx":-63},"encoding":{"x":{"datum":"Before","type":"nominal"},"y":{"datum":6.7,"type":"quantitative","axis":null}}},
    {"data":{"name":"Fbars"},"mark":{"type":"rule","color":"black","strokeWidth":1.2},
     "encoding":{"x":{"field":"time","type":"nominal"},"xOffset":{"field":"group","type":"nominal"},"y":{"field":"mean","type":"quantitative","axis":null},"y2":{"field":"hi"}}},
    {"data":{"name":"Fbars"},"mark":{"type":"tick","color":"black","thickness":1.2,"size":6,"orient":"horizontal"},
     "encoding":{"x":{"field":"time","type":"nominal"},"xOffset":{"field":"group","type":"nominal"},"y":{"field":"hi","type":"quantitative","axis":null}}},
    {"data":{"name":"Fbars"},"transform":[{"filter":"isValid(datum.n)"}],"mark":{"type":"text","dy":-7,"fontSize":11,"color":"black","fill":"black"},
     "encoding":{"x":{"field":"time","type":"nominal"},"xOffset":{"field":"group","type":"nominal"},"y":{"field":"hi","type":"quantitative","axis":null},"text":{"field":"n"}}},
    {"data":{"name":"Fbars"},"transform":[{"filter":"isValid(datum.sig)"}],"mark":{"type":"text","dy":-17,"fontSize":10,"color":"black","fill":"black"},
     "encoding":{"x":{"field":"time","type":"nominal"},"xOffset":{"field":"group","type":"nominal"},"y":{"field":"hi","type":"quantitative","axis":null},"text":{"field":"sig"}}},
    {"data":{"name":"Fbr"},"mark":{"type":"line","color":"#666","strokeWidth":1},
     "encoding":{"x":{"field":"time","type":"nominal"},"xOffset":{"field":"group","type":"nominal"},"y":{"field":"y","type":"quantitative","axis":null},"detail":{"field":"b"},"order":{"field":"o"}}},
    {"data":{"name":"one"},"mark":{"type":"rule","color":"#666","strokeWidth":1,"xOffset":-7},"encoding":{"x":{"datum":"Before","type":"nominal"},"y":{"datum":4.14,"type":"quantitative","axis":null},"y2":{"datum":4.42}}},
    {"data":{"name":"one"},"mark":{"type":"rule","color":"#666","strokeWidth":1,"xOffset":-7},"encoding":{"x":{"datum":"After 100 Hz","type":"nominal"},"y":{"datum":3.76,"type":"quantitative","axis":null},"y2":{"datum":4.42}}},
    {"data":{"name":"one"},"mark":{"type":"rule","color":"#666","strokeWidth":1,"xOffset":-7,"x2Offset":-7},"encoding":{"x":{"datum":"Before","type":"nominal"},"x2":{"datum":"After 100 Hz"},"y":{"datum":4.42,"type":"quantitative","axis":null}}},
    {"data":{"name":"one"},"mark":{"type":"text","text":"+++","dx":20,"fontSize":10,"color":"black","fill":"black"},"encoding":{"x":{"datum":"Before","type":"nominal"},"y":{"datum":4.62,"type":"quantitative","axis":null}}},
    {"data":{"name":"one"},"mark":{"type":"rule","color":"black","strokeWidth":1.5},"encoding":{"y":{"datum":5.05,"type":"quantitative","axis":{"orient":"right","labels":false,"ticks":false,"title":null,"domainWidth":1.5}}}}
   ]}
 ],"spacing":67,"bounds":"flush","resolve":{"scale":{"fill":"independent","stroke":"independent"},"legend":{"fill":"independent","stroke":"independent"}}}
],"spacing":-1,"resolve":{"scale":{"fill":"independent","shape":"independent","stroke":"independent"},"legend":{"fill":"independent","shape":"independent","stroke":"independent"}}}
],
"config":{
 "view":{"stroke":"transparent"},
 "font":"Liberation Sans",
 "axis":{"domainColor":"black","domainWidth":2,"tickColor":"black","tickWidth":1.5,"tickSize":4,"labelFont":"Liberation Sans","labelFontSize":10.5,"labelFontWeight":"bold","labelColor":"black","titleFont":"Liberation Sans","titleFontSize":10.5,"titleFontWeight":"bold","titleColor":"black","grid":false,"labelOverlap":false},
 "legend":{"labelFont":"Liberation Sans","labelColor":"black","padding":0},
 "scale":{"continuousPadding":0},
 "text":{"font":"Liberation Sans","color":"black"}
}
}
